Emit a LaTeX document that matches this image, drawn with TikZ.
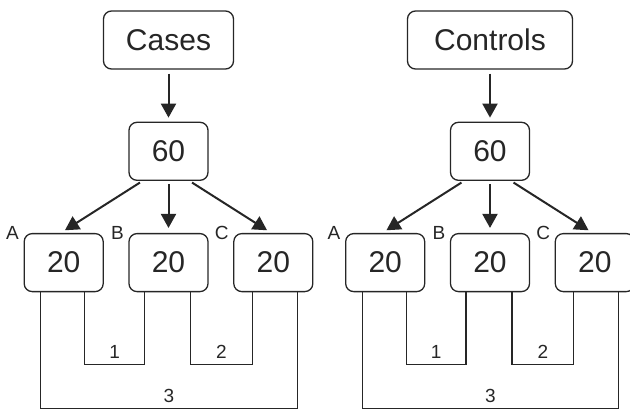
\documentclass[tikz,border=0pt]{standalone}
\usepackage{fontspec}
\setmainfont{Liberation Sans}
\usetikzlibrary{positioning,arrows.meta}

\begin{document}
\begin{tikzpicture}[x=1pt, y=-1pt, node distance={52pt}, line width=1.3pt, black!85,
    box/.style = {draw, rounded corners=8pt, minimum height=58pt, inner sep=0pt, font=\fontsize{30}{30}\selectfont},
    head/.style = {box, minimum width=130pt},
    num/.style = {box, minimum width=79pt},
    tag/.style = {font=\fontsize{19}{19}\selectfont, inner sep=1pt},
    arr/.style = {-{Triangle[length=14pt,width=15pt]}, line width=2pt}]
    \useasboundingbox (0,0) rectangle (630,410);
    % cases
    \node[head] (cases) at (168.5,40) {Cases};
    \node[num] (sixtyL) [below=of cases] {60};
    \node[num] (bL) [below=of sixtyL] {20};
    \node[num] (aL) [left=24.5pt of bL] {20};
    \node[num] (cL) [right=24.5pt of bL] {20};
    \node[tag, left=3pt] (tagAL) at (aL.north west) {A};
    \node[tag, left=3pt] (tagBL) at (bL.north west) {B};
    \node[tag, left=3pt] (tagCL) at (cL.north west) {C};
    \draw[arr, shorten <=4pt, shorten >=4pt] (cases) -- (sixtyL);
    \draw[arr, shorten <=3pt, shorten >=5pt] ([xshift=-26pt]sixtyL.south) -- ([xshift=-3pt]aL.north);
    \draw[arr, shorten <=3pt, shorten >=5pt] (sixtyL) -- (bL);
    \draw[arr, shorten <=3pt, shorten >=5pt] ([xshift=21pt]sixtyL.south) -- ([xshift=-2pt]cL.north);
    \draw ([xshift=21pt]aL.south) -- ++(0,72) -| ([xshift=-24pt]bL.south) node[tag, pos=0.25, above=4pt] (oneL) {1};
    \draw ([xshift=22pt]bL.south) -- ++(0,72) -| ([xshift=-21pt]cL.south) node[tag, pos=0.25, above=4pt] (twoL) {2};
    \draw ([xshift=-23pt]aL.south) -- ++(0,116) -| ([xshift=24pt]cL.south) node[tag, pos=0.25, above=4pt] (threeL) {3};
    % controls
    \node[head, minimum width=165pt] (controls) at (490,40) {Controls};
    \node[num] (sixtyR) [below=of controls] {60};
    \node[num] (bR) [below=of sixtyR] {20};
    \node[num] (aR) [left=24.5pt of bR] {20};
    \node[num] (cR) [right=24.5pt of bR] {20};
    \node[tag, left=3pt] (tagAR) at (aR.north west) {A};
    \node[tag, left=3pt] (tagBR) at (bR.north west) {B};
    \node[tag, left=3pt] (tagCR) at (cR.north west) {C};
    \draw[arr, shorten <=4pt, shorten >=4pt] (controls) -- (sixtyR);
    \draw[arr, shorten <=3pt, shorten >=5pt] ([xshift=-26pt]sixtyR.south) -- ([xshift=-3pt]aR.north);
    \draw[arr, shorten <=3pt, shorten >=5pt] (sixtyR) -- (bR);
    \draw[arr, shorten <=3pt, shorten >=5pt] ([xshift=21pt]sixtyR.south) -- ([xshift=-2pt]cR.north);
    \draw ([xshift=21pt]aR.south) -- ++(0,72) -| ([xshift=-24pt]bR.south) node[tag, pos=0.25, above=4pt] (oneR) {1};
    \draw ([xshift=22pt]bR.south) -- ++(0,72) -| ([xshift=-21pt]cR.south) node[tag, pos=0.25, above=4pt] (twoR) {2};
    \draw ([xshift=-23pt]aR.south) -- ++(0,116) -| ([xshift=24pt]cR.south) node[tag, pos=0.25, above=4pt] (threeR) {3};
\end{tikzpicture}
\end{document}
